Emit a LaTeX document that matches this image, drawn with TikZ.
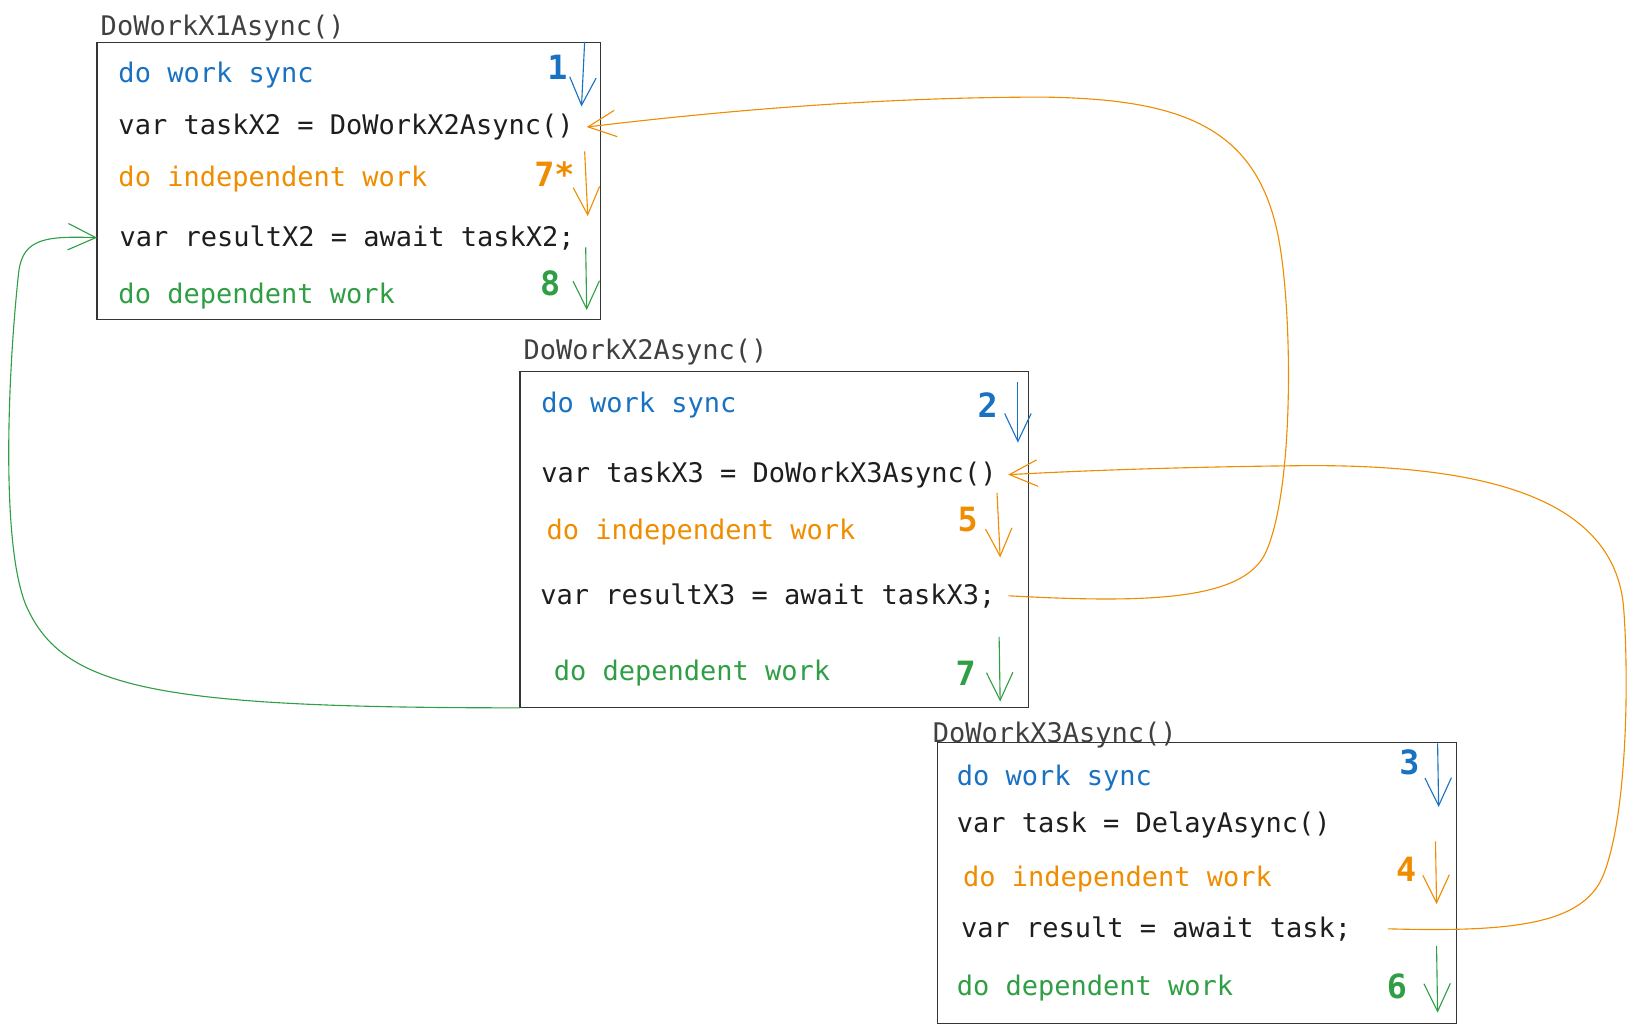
\documentclass[tikz,border=0pt]{standalone}
\usepackage{fontspec}
\setmonofont{DejaVu Sans Mono}
\usetikzlibrary{arrows.meta}

\definecolor{syncblue}{RGB}{25,113,194}
\definecolor{indorange}{RGB}{240,140,0}
\definecolor{depgreen}{RGB}{47,158,68}
\definecolor{ink}{RGB}{30,30,30}

\tikzset{every picture/.style={line width=0.75pt}}
\tikzset{
  code/.style={anchor=west, inner sep=0pt, yshift=-2pt, font=\ttfamily\fontsize{19.4}{23}\selectfont, text=ink},
  title/.style={code, text=ink!85},
  stepnum/.style={inner sep=0pt, font=\ttfamily\bfseries\fontsize{24}{30}\selectfont},
  frame/.style={draw=ink!90, line width=0.9pt},
  flow/.style={-{Straight Barb[length=20pt,width=19pt]}, line width=0.8pt},
}

\begin{document}
\begin{tikzpicture}[x=0.75pt,y=0.75pt,yscale=-1,xscale=1]
\useasboundingbox (0,0) rectangle (1568,990);

%Shape: Rectangle DoWorkX1Async
\draw [frame] (93,41) coordinate (X1nw) rectangle (575,306);
%Shape: Rectangle DoWorkX2Async
\draw [frame] (498,356) coordinate (X2nw) rectangle (985,678) coordinate (X2se);
%Shape: Rectangle DoWorkX3Async
\draw [frame] (898,711) coordinate (X3nw) rectangle (1395,980);

% Text Node
\draw (96,24) node [title] (titleX1) {DoWorkX1Async()};
\draw (501,335) node [title] (titleX2) {DoWorkX2Async()};
\draw (893,701) node [title] (titleX3) {DoWorkX3Async()};

% Text Node
\draw (113,69) node [code, text=syncblue] (syncX1) {do work sync};
\draw (113,119) node [code] (callX2) {var taskX2 = DoWorkX2Async()};
\draw (113,169) node [code, text=indorange] (indX1) {do independent work};
\draw (114,225) node [code] (awaitX2) {var resultX2 = await taskX2;};
\draw (113,281) node [code, text=depgreen] (depX1) {do dependent work};

% Text Node
\draw (518,385) node [code, text=syncblue] (syncX2) {do work sync};
\draw (518,452) node [code] (callX3) {var taskX3 = DoWorkX3Async()};
\draw (523,507) node [code, text=indorange] (indX2) {do independent work};
\draw (517,568) node [code] (awaitX3) {var resultX3 = await taskX3;};
\draw (530,642) node [code, text=depgreen] (depX2) {do dependent work};

% Text Node
\draw (916,743) node [code, text=syncblue] (syncX3) {do work sync};
\draw (916,788) node [code] (callDelay) {var task = DelayAsync()};
\draw (922,839) node [code, text=indorange] (indX3) {do independent work};
\draw (920,887) node [code] (awaitTask) {var result = await task;};
\draw (916,944) node [code, text=depgreen] (depX3) {do dependent work};

% Step numbers
\draw (534,64) node [stepnum, text=syncblue] (n1) {1};
\draw (531,167) node [stepnum, text=indorange] (n7s) {7*};
\draw (527,271) node [stepnum, text=depgreen] (n8) {8};
\draw (946,388) node [stepnum, text=syncblue] (n2) {2};
\draw (927,498) node [stepnum, text=indorange] (n5) {5};
\draw (925,645) node [stepnum, text=depgreen] (n7) {7};
\draw (1350,730) node [stepnum, text=syncblue] (n3) {3};
\draw (1347,833) node [stepnum, text=indorange] (n4) {4};
\draw (1338,945) node [stepnum, text=depgreen] (n6) {6};

%Step arrows
\draw [flow, syncblue] (560,40) -- (557,102);
\draw [flow, indorange] (560,145) -- (563,207);
\draw [flow, depgreen] (561,237) -- (562,297);
\draw [flow, syncblue] (975,366) -- (975,424);
\draw [flow, indorange] (955,472) -- (958,534);
\draw [flow, depgreen] (957,610) -- (958,672);
\draw [flow, syncblue] (1377,712) -- (1378,773);
\draw [flow, indorange] (1375,806) -- (1376,866);
\draw [flow, depgreen] (1376,906) -- (1377,970);

%Curve Lines: return to caller X1
\draw [flow, depgreen] (X2nw |- X2se) .. controls (150,678) and (60,660) .. (25,580) .. controls (0,520) and (8,350) .. (18,260) .. controls (22,228) and (45,226) .. (X1nw |- awaitX2);
%Curve Lines: await X3 back to X1
\draw [flow, indorange] ([xshift=9pt]awaitX3.east) .. controls (1100,578) and (1190,575) .. (1212,530) .. controls (1240,470) and (1238,300) .. (1225,230) .. controls (1205,120) and (1130,95) .. (1000,93) .. controls (850,93) and (700,105) .. ([xshift=9pt]callX2.east);
%Curve Lines: await task back to X2
\draw [flow, indorange] ([xshift=26pt]awaitTask.east) .. controls (1450,893) and (1515,885) .. (1535,840) .. controls (1560,780) and (1560,640) .. (1555,580) .. controls (1545,480) and (1430,445) .. (1250,446) .. controls (1150,447) and (1050,450) .. ([xshift=8pt]callX3.east);

\end{tikzpicture}
\end{document}
